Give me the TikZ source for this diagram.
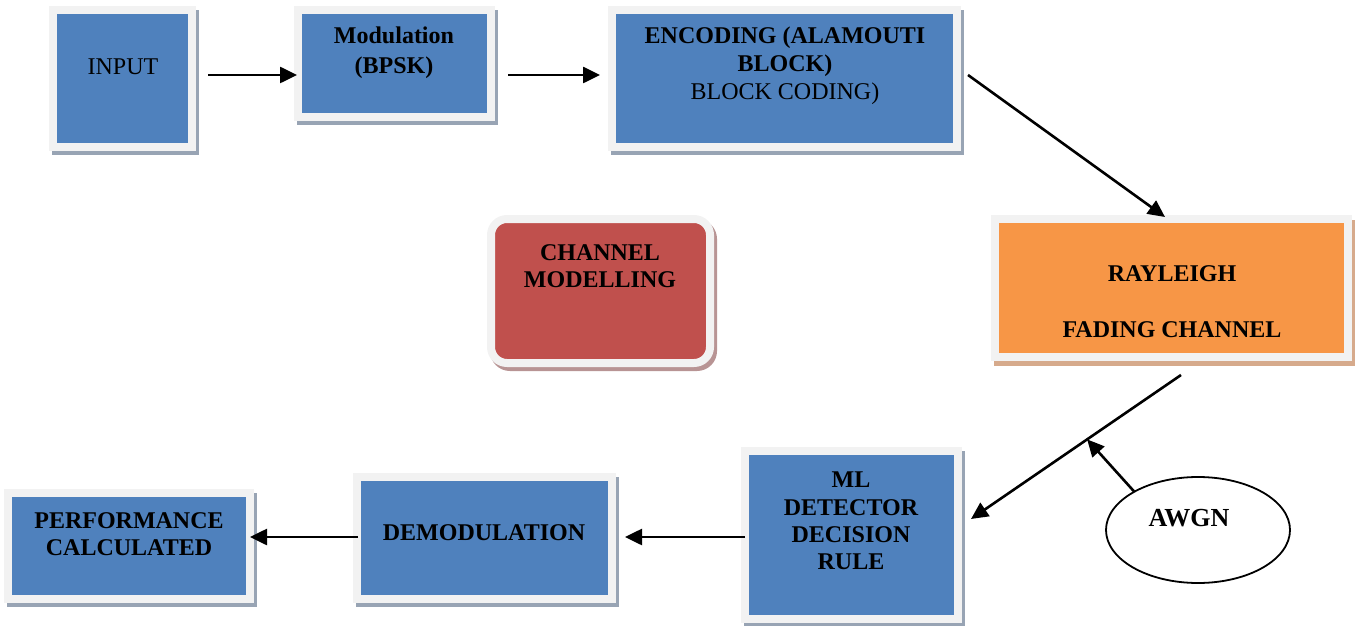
\documentclass[tikz,border=0pt]{standalone}
\usepackage{fontspec}
\setmainfont{Liberation Serif}
\usetikzlibrary{shadows,calc,arrows.meta,shapes.geometric}
\definecolor{boxblue}{HTML}{4F81BD}
\definecolor{framegray}{HTML}{F2F2F2}
\definecolor{shblue}{HTML}{98A4B4}
\definecolor{boxorange}{HTML}{F79646}
\definecolor{shorange}{HTML}{D6AA8C}
\definecolor{boxred}{HTML}{C0504D}
\definecolor{shred}{HTML}{B89494}
\begin{document}
\begin{tikzpicture}[x=0.5pt,y=-0.5pt,
  box/.style={rectangle, inner sep=0pt, outer sep=0pt, line width=4pt, draw=framegray},
  bluebox/.style={box, fill=boxblue, general shadow={draw=shblue, fill=shblue, line width=4pt, shadow xshift=1.5pt, shadow yshift=-2pt}},
  orangebox/.style={box, fill=boxorange, general shadow={draw=shorange, fill=shorange, line width=4pt, shadow xshift=1.5pt, shadow yshift=-2.5pt}},
  redbox/.style={box, rounded corners=8pt, fill=boxred, general shadow={draw=shred, fill=shred, line width=4pt, shadow xshift=1.5pt, shadow yshift=-2pt}},
  lbl/.style={inner sep=0pt, outer sep=0pt, align=center, font=\fontsize{12}{13.6}\selectfont\bfseries},
  arr/.style={line width=1.3pt, -{Triangle[length=8.5pt,width=8pt]}}]
\useasboundingbox (0,0) rectangle (1360,626);

% boxes
\node[bluebox, minimum width=69.5pt, minimum height=68.5pt] (input) at (122.5,78.5) {};
\node[bluebox, minimum width=96.5pt, minimum height=53.5pt] (mod) at (394.5,63.5) {};
\node[bluebox, minimum width=172.5pt, minimum height=68.5pt] (enc) at (784.5,78.5) {};
\node[orangebox, minimum width=176.5pt, minimum height=69pt] (ray) at (1171.5,288) {};
\node[redbox, minimum width=109.5pt, minimum height=72pt] (chan) at (600.5,291) {};
\node[bluebox, minimum width=121pt, minimum height=53pt] (perf) at (129,546) {};
\node[bluebox, minimum width=127.5pt, minimum height=61pt] (demod) at (484.5,538) {};
\node[bluebox, minimum width=106.5pt, minimum height=84pt] (ml) at (851.5,535) {};
\node[ellipse, draw=black, line width=0.9pt, fill=white, inner sep=0pt, outer sep=0pt,
      minimum width=92pt, minimum height=53pt] (awgn) at (1198,530) {};

% labels
\node[lbl, font=\fontsize{12}{13.6}\selectfont] (tinput) at (123,67) {INPUT};
\node[lbl, font=\fontsize{12}{15}\selectfont\bfseries] (tmod) at (394,53) {Modulation\\(BPSK)};
\node[lbl, font=\fontsize{12}{14}\selectfont] (tenc) at (785,66) {\textbf{ENCODING (ALAMOUTI}\\\textbf{BLOCK)}\\BLOCK CODING)};
\node[lbl] (tchan) at (600,266.5) {CHANNEL\\MODELLING};
\node[lbl, font=\fontsize{12}{28}\selectfont\bfseries] (tray) at (1172,302) {RAYLEIGH\\FADING CHANNEL};
\node[lbl] (tperf) at (129,534.5) {PERFORMANCE\\CALCULATED};
\node[lbl] (tdemod) at (484,533) {DEMODULATION};
\node[lbl, font=\fontsize{12}{13.7}\selectfont\bfseries] (tml) at (851,521) {ML\\DETECTOR\\DECISION\\RULE};
\node[lbl, font=\fontsize{13}{14}\selectfont\bfseries] (tawgn) at (1189,518) {AWGN};

% connectors
\draw[arr] ($(input.east)+(16,-3.5)$) -- ($(mod.west)+(-1,11.5)$);
\draw[arr] ($(mod.east)+(17,11.5)$) -- ($(enc.west)+(-12,-3.5)$);
\draw[arr] ($(enc.east)+(11,-3.5)$) -- ($(ray.north)+(-6.5,-2)$);
\draw[arr] ($(ray.south)+(9.5,18)$) -- coordinate[pos=0.447] (j) ($(ml.east)+(13,-16)$);
\draw[arr] (awgn.149) -- (j);
\draw[arr] ($(ml.west)+(0,2)$) -- ($(demod.east)+(13,-1)$);
\draw[arr] ($(demod.west)+(1,-1)$) -- ($(perf.east)+(0,-9)$);
\end{tikzpicture}
\end{document}
